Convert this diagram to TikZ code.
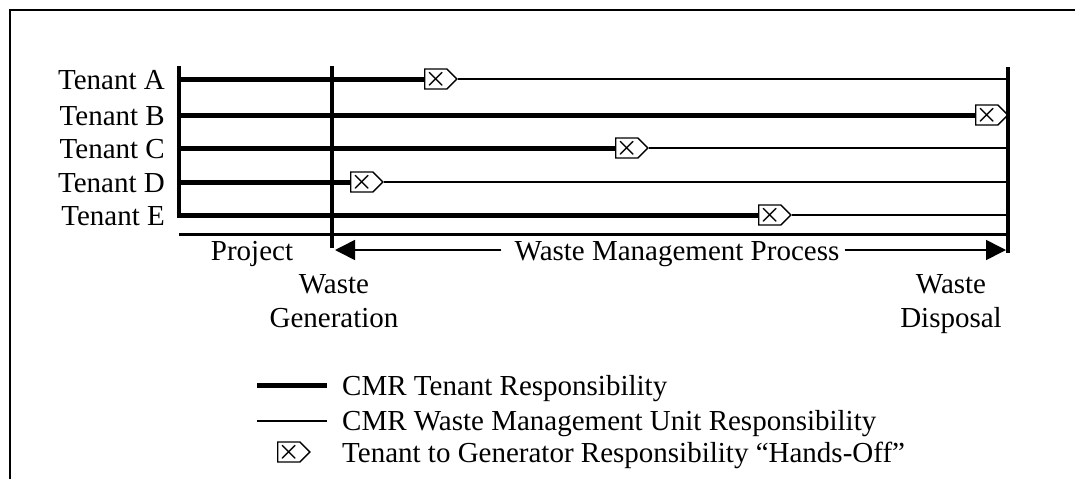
\documentclass[tikz,border=0pt]{standalone}
\usepackage{fontspec}
\setmainfont{Liberation Serif}
\usetikzlibrary{arrows.meta,shapes.symbols}
\begin{document}
\begin{tikzpicture}[x=1pt,y=-1pt,
    every node/.style={inner sep=0pt,font=\fontsize{29}{34}\selectfont},
    tenantline/.style={line width=5pt},
    unitline/.style={line width=1.6pt},
    bar/.style={line width=4.5pt},
    handoff/.style={draw,line width=1.4pt,fill=white,signal,signal to=east,
      signal pointer angle=90,minimum width=32pt,minimum height=20pt,
      inner sep=0pt,font=\fontsize{28}{28}\selectfont\boldmath},
    process/.style={line width=1.6pt,-{Triangle[length=20pt,width=20pt]}}]
      \useasboundingbox (0,0) rectangle (1075,479);
      \draw[line width=1.5pt] (10,479) -- (10,10) -- (1075,10);
      \draw
        (165,89) node[anchor=base east] (la){Tenant A}
        (165,125) node[anchor=base east] (lb){Tenant B}
        (165,158) node[anchor=base east] (lc){Tenant C}
        (165,192) node[anchor=base east] (ld){Tenant D}
        (165,225) node[anchor=base east] (le){Tenant E};
      \draw
        (179,66) coordinate (lt) (179,218) coordinate (lbot)
        (332,66) coordinate (mt) (332,248) coordinate (mbot)
        (1008,67) coordinate (rt) (1008,253) coordinate (rbot)
        (179,79) coordinate (a0) (1008,79) coordinate (a1)
        (179,115) coordinate (b0) (1008,115) coordinate (b1)
        (179,148) coordinate (c0) (1008,148) coordinate (c1)
        (179,182) coordinate (d0) (1008,182) coordinate (d1)
        (179,215) coordinate (e0) (1008,215) coordinate (e1)
        (179,234) coordinate (s0) (1008,234) coordinate (s1)
        (335,250) coordinate (pl) (1006,250) coordinate (pr);
      \node[handoff,anchor=west] (ha) at (424,79) {$\times$};
      \node[handoff,anchor=west] (hb) at (975,115) {$\times$};
      \node[handoff,anchor=west] (hc) at (615,148) {$\times$};
      \node[handoff,anchor=west] (hd) at (350,182) {$\times$};
      \node[handoff,anchor=west] (he) at (758,215) {$\times$};
      \begin{scope}[tenantline]
        \draw (a0) to (ha.west);
        \draw (b0) to (hb.west);
        \draw (c0) to (hc.west);
        \draw (d0) to (hd.west);
        \draw (e0) to (he.west);
      \end{scope}
      \begin{scope}[unitline]
        \draw (ha.east) to (a1);
        \draw (hc.east) to (c1);
        \draw (hd.east) to (d1);
        \draw (he.east) to (e1);
      \end{scope}
      \draw[bar] (lt) to (lbot);
      \draw[bar] (mt) to (mbot);
      \draw[bar] (rt) to (rbot);
      \draw[line width=3pt] (s0) to (s1);
      \node[anchor=base] (proj) at (252,260) {Project};
      \node[anchor=base] (wmp) at (677,260) {Waste Management Process};
      \node[anchor=base,align=center] (gen) at (334,327) {Waste\\Generation};
      \node[anchor=base,align=center] (disp) at (951,327) {Waste\\Disposal};
      \draw[process] (wmp.west |- pl) ++(-13,0) to (pl);
      \draw[process] (wmp.east |- pr) ++(5,0) to (pr);
      \draw
        (257,385) coordinate (k1) (327,385) coordinate (k2)
        (257,421) coordinate (k3) (327,421) coordinate (k4);
      \draw[tenantline] (k1) to (k2);
      \draw[unitline] (k3) to (k4);
      \node[handoff,anchor=west] (hk) at (277,452) {$\times$};
      \node[anchor=base west] (t1) at (342,395) {CMR Tenant Responsibility};
      \node[anchor=base west] (t2) at (342,430) {CMR Waste Management Unit Responsibility};
      \node[anchor=base west] (t3) at (342,462) {Tenant to Generator Responsibility “Hands-Off”};
    \end{tikzpicture}
\end{document}
